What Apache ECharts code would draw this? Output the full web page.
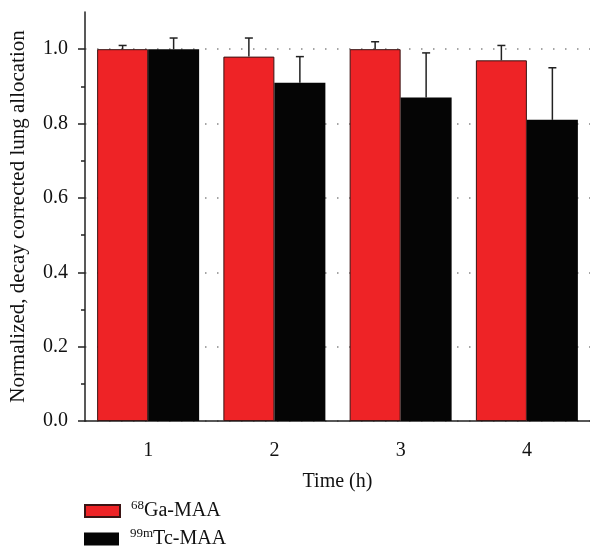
<!DOCTYPE html>
<html>
<head>
<meta charset="utf-8">
<script src="https://cdn.jsdelivr.net/npm/echarts@6/dist/echarts.min.js"></script>
<style>
  html, body { margin: 0; padding: 0; background: #fff; }
  #chart { width: 590px; height: 548px; }
</style>
</head>
<body>
<div id="chart"></div>
<script>
// data
var categories = ['1', '2', '3', '4'];
var gaValues = [1.00, 0.98, 1.00, 0.97];
var gaErrors = [0.01, 0.05, 0.02, 0.04];
var tcValues = [1.00, 0.91, 0.87, 0.81];
var tcErrors = [0.03, 0.07, 0.12, 0.14];
var yMajorTicks = [0, 0.2, 0.4, 0.6, 0.8, 1.0];
var yMinorTicks = [0.1, 0.3, 0.5, 0.7, 0.9];

var FONT = '"Liberation Serif", "DejaVu Serif", serif';
var BAR_W = 51;

// error bar: only the upper whisker with a cap, shifted onto its bar
function errorSeries(name, values, errors, shift) {
  return {
    type: 'custom',
    name: name,
    z: 1,
    data: values.map(function (v, i) { return [i, v, v + errors[i]]; }),
    renderItem: function (params, api) {
      var base = api.coord([api.value(0), api.value(1)]);
      var top = api.coord([api.value(0), api.value(2)]);
      var x = base[0] + shift;
      var st = { stroke: '#222', lineWidth: 1.5 };
      return {
        type: 'group',
        children: [
          { type: 'line', shape: { x1: x, y1: base[1], x2: x, y2: top[1] }, style: st },
          { type: 'line', shape: { x1: x - 4, y1: top[1], x2: x + 4, y2: top[1] }, style: st }
        ]
      };
    }
  };
}

var legendRich = {
  sup: { fontFamily: FONT, fontSize: 13, color: '#111', verticalAlign: 'top', padding: [0, 0, 0, 6] },
  txt: { fontFamily: FONT, fontSize: 20, color: '#111', lineHeight: 24 }
};
function legendFmt(n) {
  return n === 'ga' ? '{sup|68}{txt|Ga-MAA}' : '{sup|99m}{txt|Tc-MAA}';
}

var chart = echarts.init(document.getElementById('chart'));
chart.setOption({
  animation: false,
  textStyle: { fontFamily: FONT },
  grid: { left: 84, right: 0, top: 12, bottom: 127 },
  legend: [{
    left: 84, top: 499, padding: 0,
    icon: 'rect', itemWidth: 35, itemHeight: 12,
    data: ['ga'], formatter: legendFmt,
    textStyle: { rich: legendRich }
  }, {
    left: 84, top: 527, padding: 0,
    icon: 'rect', itemWidth: 35, itemHeight: 13,
    data: ['tc'], formatter: legendFmt,
    textStyle: { rich: legendRich }
  }],
  xAxis: [{
    type: 'category',
    data: categories,
    boundaryGap: true,
    axisLine: { lineStyle: { color: '#222', width: 1.5 } },
    axisTick: { alignWithLabel: true, length: 8, lineStyle: { color: '#222', width: 1.5 } },
    axisLabel: { color: '#111', fontSize: 20, fontFamily: FONT, margin: 20 },
    name: 'Time (h)',
    nameLocation: 'middle',
    nameGap: 51,
    nameTextStyle: { color: '#111', fontSize: 20, fontFamily: FONT }
  }, {
    type: 'category',
    data: categories,
    boundaryGap: true,
    axisLine: { show: false },
    axisTick: { alignWithLabel: false, length: 4, lineStyle: { color: '#222', width: 1.5 } },
    axisLabel: { show: false }
  }],
  yAxis: [{
    type: 'value',
    min: 0,
    max: 1.1,
    position: 'left',
    axisLine: { show: true, lineStyle: { color: '#222', width: 1.5 } },
    axisTick: { show: true, length: 7, customValues: yMajorTicks, lineStyle: { color: '#222', width: 1.5 } },
    axisLabel: {
      color: '#111', fontSize: 20, fontFamily: FONT, margin: 17,
      customValues: yMajorTicks,
      formatter: function (v) { return v.toFixed(1); }
    },
    splitLine: { show: true, lineStyle: { color: '#888', width: 1.5, type: [1.5, 10.5] } },
    name: 'Normalized, decay corrected lung allocation',
    nameLocation: 'middle',
    nameGap: 56,
    nameTextStyle: { color: '#111', fontSize: 21, fontFamily: FONT }
  }, {
    type: 'value',
    min: 0,
    max: 1.1,
    position: 'left',
    axisLine: { show: false },
    axisTick: { show: true, length: 4, customValues: yMinorTicks, lineStyle: { color: '#222', width: 1.5 } },
    axisLabel: { show: false },
    splitLine: { show: false }
  }],
  series: [
    {
      name: 'ga',
      type: 'bar',
      data: gaValues,
      barWidth: BAR_W,
      barGap: '0%',
      z: 2,
      itemStyle: { color: '#EE2326', borderColor: '#3b1414', borderWidth: 1 }
    },
    {
      name: 'tc',
      type: 'bar',
      data: tcValues,
      barWidth: BAR_W,
      barGap: '0%',
      z: 2,
      itemStyle: { color: '#050505' }
    },
    errorSeries('gaErr', gaValues, gaErrors, -BAR_W / 2),
    errorSeries('tcErr', tcValues, tcErrors, BAR_W / 2)
  ]
});
</script>
</body>
</html>
